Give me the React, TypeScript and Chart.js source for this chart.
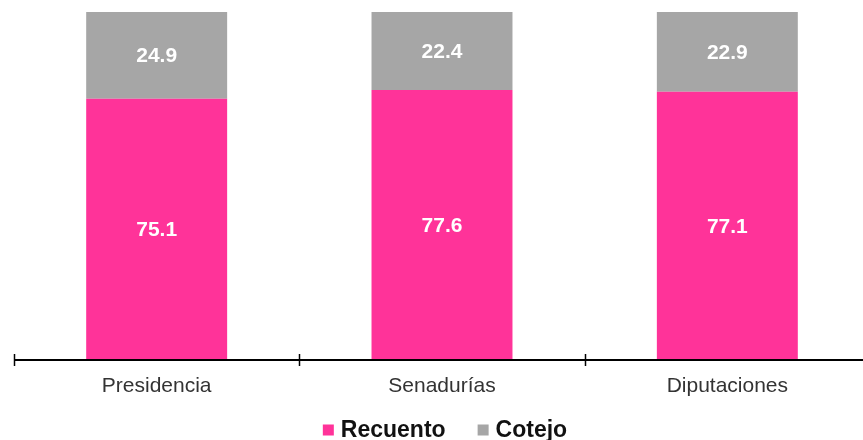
import React, { useEffect, useRef } from "react";
import { Chart, registerables } from "chart.js";

Chart.register(...registerables);

const categories = ["Presidencia", "Senadurías", "Diputaciones"];
const recuento = [75.1, 77.6, 77.1];
const cotejo = [24.9, 22.4, 22.9];
const seriesNames = ["Recuento", "Cotejo"];
const colors = ["#FF3399", "#A6A6A6"];

const FONT = "'Liberation Sans', Arial, sans-serif";

const valueLabels = {
  id: "valueLabels",
  afterDatasetsDraw(chart: any) {
    const ctx = chart.ctx;
    ctx.save();
    ctx.fillStyle = "#ffffff";
    ctx.font = `bold 21px ${FONT}`;
    ctx.textAlign = "center";
    ctx.textBaseline = "middle";
    chart.data.datasets.forEach((ds: any, di: number) => {
      const meta = chart.getDatasetMeta(di);
      meta.data.forEach((el: any, i: number) => {
        const y = (el.y + el.base) / 2;
        ctx.fillText(ds.data[i].toFixed(1), el.x, y + 1);
      });
    });
    ctx.restore();
  },
};

const axisTicks = {
  id: "axisTicks",
  afterDraw(chart: any) {
    const ctx = chart.ctx;
    const xs = chart.scales.x;
    const y0 = chart.chartArea.bottom;
    const n = chart.data.labels.length;
    const step = (xs.right - xs.left) / n;
    ctx.save();
    ctx.strokeStyle = "#000";
    ctx.lineWidth = 2;
    ctx.beginPath();
    ctx.moveTo(xs.left, y0);
    ctx.lineTo(xs.right, y0);
    ctx.stroke();
    ctx.lineWidth = 1.5;
    for (let i = 0; i <= n; i++) {
      const x = Math.round(xs.left + i * step) + 0.5;
      ctx.beginPath();
      ctx.moveTo(x, y0 - 6);
      ctx.lineTo(x, y0 + 6);
      ctx.stroke();
    }
    ctx.restore();
  },
};

const customLegend = {
  id: "customLegend",
  afterDraw(chart: any) {
    const ctx = chart.ctx;
    const area = chart.chartArea;
    const box = 11;
    const gapText = 7;
    const gapItem = 32;
    ctx.save();
    ctx.font = `bold 23px ${FONT}`;
    const items = chart.data.datasets.map((ds: any) => ({
      label: ds.label,
      color: ds.backgroundColor,
      w: ctx.measureText(ds.label).width,
    }));
    const total =
      items.reduce((s: number, it: any) => s + box + gapText + it.w, 0) + gapItem * (items.length - 1);
    let x = (area.left + area.right) / 2 + 3 - total / 2;
    const yc = 430;
    ctx.textBaseline = "middle";
    ctx.textAlign = "left";
    items.forEach((it: any) => {
      ctx.fillStyle = it.color;
      ctx.fillRect(x, yc - box / 2, box, box);
      x += box + gapText;
      ctx.fillStyle = "#111";
      ctx.fillText(it.label, x, yc + 1);
      x += it.w + gapItem;
    });
    ctx.restore();
  },
};

export default function App() {
  const ref = useRef<HTMLCanvasElement>(null);
  useEffect(() => {
    if (!ref.current) return;
    const chart = new Chart(ref.current, {
      type: "bar",
      data: {
        labels: categories,
        datasets: [
          { label: seriesNames[0], data: recuento, backgroundColor: colors[0] },
          { label: seriesNames[1], data: cotejo, backgroundColor: colors[1] },
        ],
      },
      options: {
        animation: false,
        responsive: false,
        maintainAspectRatio: false,
        layout: { padding: { left: 14, right: 5, top: 12, bottom: 0 } },
        datasets: { bar: { barPercentage: 1, categoryPercentage: 0.494 } },
        scales: {
          x: {
            stacked: true,
            grid: { display: false },
            border: { display: false },
            afterFit: (scale: any) => {
              scale.height = 80;
            },
            ticks: {
              color: "#333",
              padding: 6,
              font: { size: 21, family: FONT },
            },
          },
          y: { stacked: true, min: 0, max: 100, display: false },
        },
        plugins: {
          tooltip: { enabled: false },
          legend: { display: false },
        },
      },
      plugins: [valueLabels, axisTicks, customLegend],
    });
    return () => chart.destroy();
  }, []);
  return (
    <div style={{ position: "absolute", left: 0, top: 0, width: 863, height: 440, overflow: "hidden", background: "#fff" }}>
      <canvas ref={ref} width={875} height={440} style={{ display: "block" }} />
    </div>
  );
}
